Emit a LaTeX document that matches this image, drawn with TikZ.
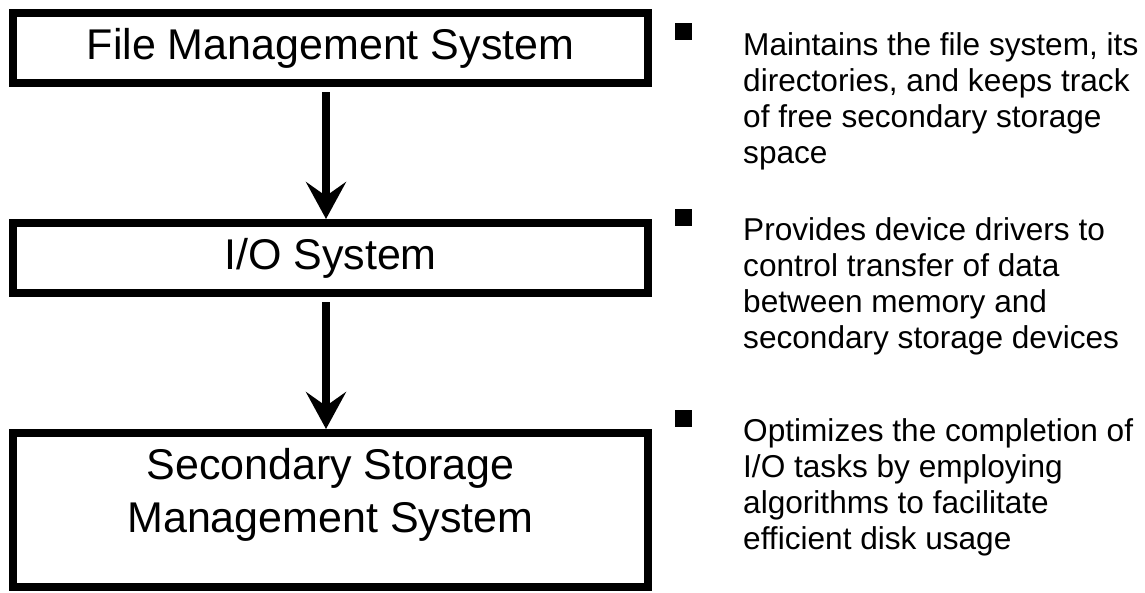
\documentclass[tikz,border=0pt]{standalone}
\usepackage{fontspec}
\setmainfont{Liberation Sans}
\usetikzlibrary{arrows.meta}

\begin{document}
\begin{tikzpicture}[x=1pt, y=-1pt, line join=miter]
        % ---------------------------------------------------
        % page frame (1 unit = 1 pixel of the slide)
        % ---------------------------------------------------
        \useasboundingbox (0,0) rectangle (1145,592);
        \tikzset{
          layerbox/.style={draw, line width=8pt, minimum width=635pt, inner sep=0pt,
                           font=\fontsize{43}{53}\selectfont, align=center},
          flow/.style={line width=8pt, shorten <=5pt,
                       -{Stealth[length=37pt, width=40pt, inset=14pt]}},
          bulletsq/.style={fill=black, minimum size=17pt, inner sep=0pt},
          note/.style={anchor=north west, inner sep=0pt, align=left,
                       font=\fontsize{31.6}{36}\selectfont}
        }
        \def\bx{683.5}
        \def\tx{743}

        % layer boxes
        \node[layerbox, minimum height=70pt] (fms) at (330.5,48) {File Management System};
        \node[layerbox, minimum height=70pt] (io) at (330.5,258) {I/O System};
        % text sits above the middle of the tall box
        \node[layerbox, minimum height=154pt, text depth=40pt] (ssms) at (330.5,510)
             {Secondary Storage\\Management System};

        % arrows between the layers
        \draw[flow] (fms.south -| 326,0) -- (io.north -| 326,0);
        \draw[flow] (io.south -| 326,0) -- (ssms.north -| 326,0);

        % bullet notes
        \node[bulletsq] (b1) at (\bx,31) {};
        \node[bulletsq] (b2) at (\bx,217.5) {};
        \node[bulletsq] (b3) at (\bx,418.5) {};
        \node[note] (n1) at (\tx,32) {Maintains the file system, its\\directories, and keeps track\\of free secondary storage\\space};
        \node[note] (n2) at (\tx,217) {Provides device drivers to\\control transfer of data\\between memory and\\secondary storage devices};
        \node[note] (n3) at (\tx,418) {Optimizes the completion of\\I/O tasks by employing\\algorithms to facilitate\\efficient disk usage};
\end{tikzpicture}
\end{document}
